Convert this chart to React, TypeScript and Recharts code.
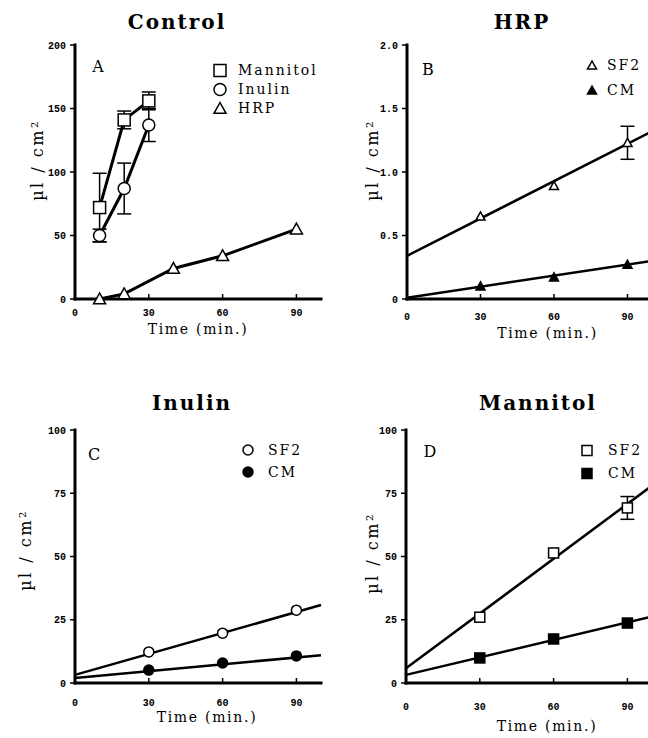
import React from 'react';
import { ComposedChart, Line, XAxis, YAxis, ErrorBar, Legend } from 'recharts';

// ---- data ----
const timeTicks = [0, 30, 60, 90];

// A: control
const ctlMannitolTime = [10, 20, 30];
const ctlMannitol = [72, 141, 156];
const ctlMannitolErr = [27, 7, 7];
const ctlInulinTime = [10, 20, 30];
const ctlInulin = [50, 87, 137];
const ctlInulinErr = [5, 20, 13];
const ctlHrpTime = [10, 20, 40, 60, 90];
const ctlHrp = [0, 4, 24, 34, 55];

// B-D: SF2 / CM measured at 30, 60, 90 min with fitted lines
const obsTime = [30, 60, 90];
const fitTime = [0, 100];

const hrpSF2 = [0.65, 0.89, 1.23];
const hrpSF2Err = [null, null, 0.13];
const hrpSF2Fit = [0.34, 1.32];
const hrpCM = [0.1, 0.17, 0.27];
const hrpCMFit = [0.01, 0.3];

const inulinSF2 = [12.3, 19.7, 28.8];
const inulinSF2Fit = [3.2, 30.8];
const inulinCM = [5.1, 7.9, 10.7];
const inulinCMFit = [2, 11];

const mannitolSF2 = [26, 51.4, 69.2];
const mannitolSF2Err = [null, null, 4.5];
const mannitolSF2Fit = [5.8, 78];
const mannitolCM = [9.9, 17.4, 23.7];
const mannitolCMFit = [3.2, 26.3];

// ---- styling ----
const serif = '"DejaVu Serif", serif';
const mono = '"Liberation Mono", monospace';
const W = 330;
const H = 360;

type Shape = 'square' | 'circle' | 'triangle';

const rows = (t: number[], v: number[], e?: (number | null)[]) =>
  t.map((x, i) => ({ t: x, v: v[i], e: e ? e[i] : null }));

const Marker = ({ cx, cy, shape, filled, size }: any) => {
  const fill = filled ? '#000' : '#fff';
  const h = size / 2;
  if (shape === 'square')
    return <rect x={cx - h} y={cy - h} width={size} height={size} fill={fill} stroke="#000" strokeWidth={1.5} />;
  if (shape === 'circle') return <circle cx={cx} cy={cy} r={h} fill={fill} stroke="#000" strokeWidth={1.5} />;
  return (
    <polygon
      points={`${cx},${cy - h} ${cx - h},${cy + h * 0.8} ${cx + h},${cy + h * 0.8}`}
      fill={fill}
      stroke="#000"
      strokeWidth={1.5}
    />
  );
};

interface Series {
  name: string;
  shape: Shape;
  filled: boolean;
  data: { t: number; v: number; e: number | null }[];
  fit?: { t: number; v: number; e: number | null }[];
  connect?: boolean;
}

interface PanelCfg {
  left: number;
  top: number;
  plotLeft: number;
  plotRight: number;
  plotBottom: number;
  yDomain: [number, number];
  yTicks: number[];
  yFmt?: (v: number) => string;
  tickMargin: number;
  xLabelOffset: number;
  xLabelDx: number;
  yLabelDx: number;
  yLabelDy: number;
  title: string;
  titleX: number;
  titleY: number;
  letter: string;
  letterX: number;
  letterY: number;
  legendX: number;
  legendY: number;
  legendGap: number;
  legendText: number;
  size: number;
  lineWidth: number;
  series: Series[];
}

const panels: PanelCfg[] = [
  {
    left: 0, top: 0, plotLeft: 75, plotRight: 321, plotBottom: 299,
    yDomain: [0, 200], yTicks: [0, 50, 100, 150, 200],
    tickMargin: 15, xLabelOffset: 25, xLabelDx: 0, yLabelDx: 0, yLabelDy: -12,
    title: 'Control', titleX: 177, titleY: 22,
    letter: 'A', letterX: 98, letterY: 67,
    legendX: 220, legendY: 70, legendGap: 19, legendText: 18,
    size: 12, lineWidth: 3,
    series: [
      { name: 'Mannitol', shape: 'square', filled: false, connect: true, data: rows(ctlMannitolTime, ctlMannitol, ctlMannitolErr) },
      { name: 'Inulin', shape: 'circle', filled: false, connect: true, data: rows(ctlInulinTime, ctlInulin, ctlInulinErr) },
      { name: 'HRP', shape: 'triangle', filled: false, connect: true, data: rows(ctlHrpTime, ctlHrp) },
    ],
  },
  {
    left: 330, top: 0, plotLeft: 77, plotRight: 322, plotBottom: 299,
    yDomain: [0, 2], yTicks: [0, 0.5, 1, 1.5, 2], yFmt: (v) => (v === 0 ? '0' : v.toFixed(1)),
    tickMargin: 19, xLabelOffset: 29, xLabelDx: 18, yLabelDx: 3.5, yLabelDy: -12,
    title: 'HRP', titleX: 522, titleY: 22,
    letter: 'B', letterX: 428, letterY: 70,
    legendX: 592, legendY: 65, legendGap: 25, legendText: 15,
    size: 9, lineWidth: 2.5,
    series: [
      { name: 'SF2', shape: 'triangle', filled: false, data: rows(obsTime, hrpSF2, hrpSF2Err), fit: rows(fitTime, hrpSF2Fit) },
      { name: 'CM', shape: 'triangle', filled: true, data: rows(obsTime, hrpCM), fit: rows(fitTime, hrpCMFit) },
    ],
  },
  {
    left: 0, top: 385, plotLeft: 75, plotRight: 321, plotBottom: 298,
    yDomain: [0, 100], yTicks: [0, 25, 50, 75, 100],
    tickMargin: 21, xLabelOffset: 29, xLabelDx: 9, yLabelDx: -12.5, yLabelDy: -6.5,
    title: 'Inulin', titleX: 192, titleY: 403,
    letter: 'C', letterX: 94, letterY: 455,
    legendX: 248, legendY: 450, legendGap: 22, legendText: 20,
    size: 10, lineWidth: 2.5,
    series: [
      { name: 'SF2', shape: 'circle', filled: false, data: rows(obsTime, inulinSF2), fit: rows(fitTime, inulinSF2Fit) },
      { name: 'CM', shape: 'circle', filled: true, data: rows(obsTime, inulinCM), fit: rows(fitTime, inulinCMFit) },
    ],
  },
  {
    left: 330, top: 385, plotLeft: 76, plotRight: 322, plotBottom: 298,
    yDomain: [0, 100], yTicks: [0, 25, 50, 75, 100],
    tickMargin: 25, xLabelOffset: 38, xLabelDx: 18, yLabelDx: 4, yLabelDy: -3.5,
    title: 'Mannitol', titleX: 538, titleY: 403,
    letter: 'D', letterX: 430, letterY: 452,
    legendX: 587, legendY: 450, legendGap: 23, legendText: 21,
    size: 10, lineWidth: 2.5,
    series: [
      { name: 'SF2', shape: 'square', filled: false, data: rows(obsTime, mannitolSF2, mannitolSF2Err), fit: rows(fitTime, mannitolSF2Fit) },
      { name: 'CM', shape: 'square', filled: true, data: rows(obsTime, mannitolCM), fit: rows(fitTime, mannitolCMFit) },
    ],
  },
];

const frame = { stroke: '#000', strokeWidth: 3, strokeLinecap: 'square' as const };
const tickLn = { stroke: '#000', strokeWidth: 1.5 };
const tickFont = { fill: '#000', fontSize: 10, fontFamily: mono, fontWeight: 'bold' as const };

const Panel = ({ cfg }: { cfg: PanelCfg }) => {
  // legendText = distance from marker centre to start of the label
  const g = cfg.legendText;
  const legendContent = () => (
    <div style={{ fontFamily: serif, fontSize: 14, letterSpacing: 2, color: '#000' }}>
      {cfg.series.map((s) => (
        <div key={s.name} style={{ height: cfg.legendGap, display: 'flex', alignItems: 'center' }}>
          <svg width={g * 2} height={cfg.legendGap} style={{ flex: 'none' }}>
            <Marker cx={g} cy={cfg.legendGap / 2} shape={s.shape} filled={s.filled} size={cfg.size} />
          </svg>
          <span>{s.name}</span>
        </div>
      ))}
    </div>
  );

  return (
    <div style={{ position: 'absolute', left: cfg.left, top: cfg.top, width: W, height: H }}>
      <ComposedChart
        width={W}
        height={H}
        margin={{ top: 45, right: W - cfg.plotRight, left: 0, bottom: H - cfg.plotBottom - 50 }}
      >
        <XAxis
          xAxisId="b"
          type="number"
          dataKey="t"
          domain={[0, 100]}
          ticks={timeTicks}
          height={50}
          tickSize={-5}
          tickMargin={cfg.tickMargin}
          axisLine={frame}
          tickLine={tickLn}
          tick={tickFont}
          label={{
            value: 'Time (min.)',
            position: 'insideTop',
            offset: cfg.xLabelOffset,
            dx: cfg.xLabelDx,
            fill: '#000',
            fontSize: 14,
            fontFamily: serif,
            letterSpacing: 1.7,
          }}
        />
        <XAxis
          xAxisId="t"
          orientation="top"
          type="number"
          dataKey="t"
          domain={[0, 100]}
          ticks={timeTicks}
          height={0}
          tickSize={-5}
          axisLine={frame}
          tickLine={tickLn}
          tick={false}
        />
        <YAxis
          yAxisId="l"
          type="number"
          domain={cfg.yDomain}
          ticks={cfg.yTicks}
          width={cfg.plotLeft}
          tickSize={5}
          tickMargin={4}
          axisLine={frame}
          tickLine={tickLn}
          tick={tickFont}
          tickFormatter={cfg.yFmt}
          label={{
            value: 'µl / cm²',
            angle: -90,
            position: 'center',
            dx: cfg.yLabelDx,
            dy: cfg.yLabelDy,
            fill: '#000',
            fontSize: 16,
            fontFamily: serif,
            letterSpacing: 2.5,
          }}
        />
        <YAxis
          yAxisId="r"
          orientation="right"
          type="number"
          domain={cfg.yDomain}
          ticks={cfg.yTicks}
          width={0}
          tickSize={-5}
          axisLine={frame}
          tickLine={tickLn}
          tick={false}
        />
        {cfg.series.map((s) =>
          s.fit ? (
            <Line
              key={s.name + '-fit'}
              xAxisId="b"
              yAxisId="l"
              data={s.fit}
              dataKey="v"
              stroke="#000"
              strokeWidth={cfg.lineWidth}
              dot={false}
              activeDot={false}
              legendType="none"
              isAnimationActive={false}
            />
          ) : null
        )}
        {cfg.series.map((s) => (
          <Line
            key={s.name}
            xAxisId="b"
            yAxisId="l"
            data={s.data}
            dataKey="v"
            name={s.name}
            stroke={s.connect ? '#000' : 'none'}
            strokeWidth={cfg.lineWidth}
            activeDot={false}
            isAnimationActive={false}
            dot={(p: any) => (
              <Marker key={`${s.name}-${p.index}`} cx={p.cx} cy={p.cy} shape={s.shape} filled={s.filled} size={cfg.size} />
            )}
          >
            {s.data.some((d) => d.e != null) && (
              <ErrorBar dataKey="e" direction="y" width={7} stroke="#000" strokeWidth={1.5} />
            )}
          </Line>
        ))}
        <Legend
          layout="horizontal"
          align="center"
          verticalAlign="middle"
          content={legendContent}
          wrapperStyle={{
            left: cfg.legendX - cfg.left - g,
            top: cfg.legendY - cfg.top - cfg.legendGap / 2,
            width: 'auto',
          }}
        />
      </ComposedChart>
    </div>
  );
};

export default function App() {
  return (
    <div
      style={{
        position: 'absolute',
        left: 0,
        top: 0,
        width: 648,
        height: 738,
        overflow: 'hidden',
        background: '#fff',
      }}
    >
      {panels.map((p) => (
        <Panel key={p.title} cfg={p} />
      ))}
      {panels.map((p) => (
        <div
          key={p.title + '-title'}
          style={{
            position: 'absolute',
            left: p.titleX - 100,
            top: p.titleY - 13,
            width: 200,
            lineHeight: '26px',
            textAlign: 'center',
            fontFamily: serif,
            fontWeight: 'bold',
            fontSize: 20,
            letterSpacing: 2,
            color: '#000',
          }}
        >
          {p.title}
        </div>
      ))}
      {panels.map((p) => (
        <div
          key={p.title + '-letter'}
          style={{
            position: 'absolute',
            left: p.letterX - 10,
            top: p.letterY - 11,
            width: 20,
            lineHeight: '22px',
            textAlign: 'center',
            fontFamily: serif,
            fontSize: 16,
            color: '#000',
          }}
        >
          {p.letter}
        </div>
      ))}
    </div>
  );
}
